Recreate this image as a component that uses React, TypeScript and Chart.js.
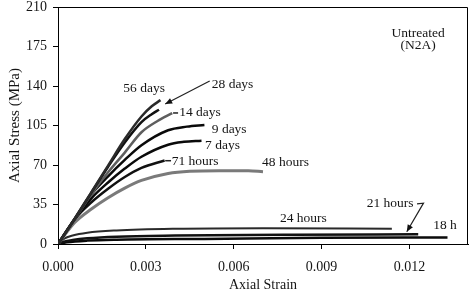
import React, { useEffect, useRef } from "react";
import { Chart, registerables } from "chart.js";

Chart.register(...registerables);

// ---- Data ----
const xTickValues = [0, 0.003, 0.006, 0.009, 0.012];
const yMax = 210;
const yStep = 35;
const xMax = 0.014;

const days56Strain = [0, 0.00057, 0.00114, 0.00171, 0.00228, 0.00285, 0.0032, 0.0035];
const days56Stress = [0, 22.5, 46, 69.5, 93, 113, 122, 127.5];

const days28Strain = [0, 0.00057, 0.00114, 0.00171, 0.00228, 0.00285, 0.0032, 0.00345];
const days28Stress = [0, 22.5, 45.5, 68.5, 90, 108, 115, 119];

const days14Strain = [0, 0.00057, 0.00114, 0.00171, 0.00228, 0.00285, 0.0034, 0.0039];
const days14Stress = [0, 22, 44, 63.5, 81, 99, 109, 116];

const days9Strain = [0, 0.00057, 0.00114, 0.00171, 0.00228, 0.00285, 0.00376, 0.0044, 0.005];
const days9Stress = [0, 22, 44, 60, 74.5, 87.5, 100.8, 104, 105.5];

const days7Strain = [0, 0.00057, 0.00114, 0.00171, 0.00228, 0.00285, 0.00376, 0.0043, 0.0049];
const days7Stress = [0, 22, 40.5, 54.5, 66.8, 77.3, 88, 90.5, 91.5];

const hours71Strain = [0, 0.00057, 0.00114, 0.00171, 0.00228, 0.00285, 0.00364];
const hours71Stress = [0, 22, 37, 49, 59.4, 67.5, 74];

const hours48Strain = [0, 0.00057, 0.00114, 0.00171, 0.00228, 0.00285, 0.00376, 0.0045, 0.0055, 0.0065, 0.007];
const hours48Stress = [0, 19, 31, 41, 49.5, 56.3, 62.5, 64.5, 65, 65, 64];

const hours24Strain = [0, 0.0002, 0.0005, 0.001, 0.002, 0.004, 0.007, 0.0114];
const hours24Stress = [0, 4.5, 7.5, 10, 12, 13.5, 14, 13.5];

const hours21Strain = [0, 0.0002, 0.0005, 0.001, 0.002, 0.004, 0.008, 0.0123];
const hours21Stress = [0, 2, 3.5, 5, 6.5, 7.5, 8.3, 8.6];

const hours18Strain = [0, 0.0003, 0.001, 0.002, 0.005, 0.009, 0.0133];
const hours18Stress = [0, 1.5, 3, 3.8, 4.5, 5.5, 5.8];

const seriesNames = ["56 days", "28 days", "14 days", "9 days", "7 days", "71 hours", "48 hours", "24 hours", "21 hours", "18 h"];
const seriesStrain = [days56Strain, days28Strain, days14Strain, days9Strain, days7Strain, hours71Strain, hours48Strain, hours24Strain, hours21Strain, hours18Strain];
const seriesStress = [days56Stress, days28Stress, days14Stress, days9Stress, days7Stress, hours71Stress, hours48Stress, hours24Stress, hours21Stress, hours18Stress];
const seriesColors = ["#2a2a2a", "#111111", "#5e5e5e", "#0a0a0a", "#0a0a0a", "#111111", "#7a7a7a", "#2a2a2a", "#111111", "#0a0a0a"];
const seriesWidths = [2.5, 2.5, 2.5, 2.5, 2.5, 2.5, 3, 2, 2.5, 2.5];

// annotation labels (data coordinates)
const labelTexts = ["56 days", "28 days", "14 days", "9 days", "7 days", "71 hours", "48 hours", "24 hours", "21 hours", "18 h"];
const labelStrain = [0.00294, 0.00525, 0.00414, 0.00525, 0.00502, 0.00388, 0.00697, 0.00758, 0.01054, 0.01281];
const labelStress = [138.1, 141.6, 116.5, 101.7, 87.5, 73.5, 72.4, 22.4, 35.7, 16.4];
const labelAlign = ["center", "left", "left", "left", "left", "left", "left", "left", "left", "left"];

const noteLines = ["Untreated", "(N2A)"];
const noteStrain = 0.0123;
const noteStress = [186.6, 176.3];

// arrows / leader lines (data coordinates)
const arrow28Strain = [0.00518, 0.00366];
const arrow28Stress = [144.5, 124];
const arrow21Strain = [0.01226, 0.01248, 0.01191];
const arrow21Stress = [35.5, 36.2, 10.8];
const leader14Strain = [0.00393, 0.0041];
const leader14Stress = [116.1, 116.1];
const leader71Strain = [0.00366, 0.00386];
const leader71Stress = [73.8, 73.8];

const FONT = "'Liberation Serif', 'Times New Roman', serif";

const overlayPlugin = {
  id: "overlay",
  afterDatasetsDraw(chart: any) {
    const { ctx, chartArea, scales } = chart;
    const xs = scales.x;
    const ys = scales.y;
    const px = (v: number) => xs.getPixelForValue(v);
    const py = (v: number) => ys.getPixelForValue(v);
    ctx.save();
    // frame top & right
    ctx.strokeStyle = "#000";
    ctx.lineWidth = 1;
    ctx.beginPath();
    ctx.moveTo(chartArea.left, chartArea.top + 0.5);
    ctx.lineTo(chartArea.right - 0.5, chartArea.top + 0.5);
    ctx.lineTo(chartArea.right - 0.5, chartArea.bottom);
    ctx.stroke();

    // labels
    ctx.fillStyle = "#151515";
    ctx.font = "13.5px " + FONT;
    ctx.textBaseline = "middle";
    labelTexts.forEach((t, i) => {
      ctx.textAlign = labelAlign[i] as CanvasTextAlign;
      ctx.fillText(t, px(labelStrain[i]), py(labelStress[i]));
    });
    ctx.textAlign = "center";
    noteLines.forEach((t, i) => {
      ctx.fillText(t, px(noteStrain), py(noteStress[i]));
    });

    // leader lines
    ctx.strokeStyle = "#222";
    ctx.lineWidth = 1.5;
    const poly = (sx: number[], sy: number[]) => {
      ctx.beginPath();
      sx.forEach((v, i) => {
        if (i === 0) ctx.moveTo(px(v), py(sy[i]));
        else ctx.lineTo(px(v), py(sy[i]));
      });
      ctx.stroke();
    };
    poly(leader14Strain, leader14Stress);
    poly(leader71Strain, leader71Stress);

    const arrow = (sx: number[], sy: number[]) => {
      ctx.lineWidth = 1.2;
      poly(sx, sy);
      const n = sx.length;
      const x1 = px(sx[n - 2]), y1 = py(sy[n - 2]);
      const x2 = px(sx[n - 1]), y2 = py(sy[n - 1]);
      const a = Math.atan2(y2 - y1, x2 - x1);
      const L = 7, W = 3;
      ctx.fillStyle = "#111";
      ctx.beginPath();
      ctx.moveTo(x2, y2);
      ctx.lineTo(x2 - L * Math.cos(a) + W * Math.sin(a), y2 - L * Math.sin(a) - W * Math.cos(a));
      ctx.lineTo(x2 - L * Math.cos(a) - W * Math.sin(a), y2 - L * Math.sin(a) + W * Math.cos(a));
      ctx.closePath();
      ctx.fill();
    };
    arrow(arrow28Strain, arrow28Stress);
    arrow(arrow21Strain, arrow21Stress);
    ctx.restore();
  },
};

export default function App() {
  const ref = useRef<HTMLCanvasElement | null>(null);
  useEffect(() => {
    if (!ref.current) return;
    const datasets = seriesNames.map((name, i) => ({
      label: name,
      data: seriesStrain[i].map((x, j) => ({ x, y: seriesStress[i][j] })),
      borderColor: seriesColors[i],
      backgroundColor: seriesColors[i],
      borderWidth: seriesWidths[i],
      pointRadius: 0,
      fill: false,
      cubicInterpolationMode: "monotone" as const,
    }));
    const chart = new Chart(ref.current, {
      type: "line",
      data: { datasets },
      options: {
        animation: false,
        responsive: false,
        devicePixelRatio: 1,
        layout: { padding: { top: 7, right: 6, left: 0, bottom: 0 } },
        plugins: { legend: { display: false }, tooltip: { enabled: false } },
        scales: {
          x: {
            type: "linear",
            min: 0,
            max: xMax,
            afterBuildTicks: (s: any) => {
              s.ticks = xTickValues.map((v) => ({ value: v }));
            },
            afterFit: (s: any) => {
              s.height = 58;
              s.paddingLeft = 0;
              s.paddingRight = 0;
            },
            ticks: {
              callback: (v: any) => Number(v).toFixed(3),
              font: { family: FONT, size: 14 },
              color: "#151515",
              padding: 10,
              autoSkip: false,
              maxRotation: 0,
            },
            grid: { drawOnChartArea: false, drawTicks: true, tickLength: 5, color: "#000" },
            border: { display: true, color: "#000", width: 1 },
            title: {
              display: true,
              text: "Axial Strain",
              font: { family: FONT, size: 14 },
              color: "#151515",
              padding: { top: 0, bottom: 8 },
            },
          },
          y: {
            type: "linear",
            min: 0,
            max: yMax,
            afterFit: (s: any) => {
              s.width = 58;
              s.paddingTop = 0;
              s.paddingBottom = 0;
            },
            ticks: {
              stepSize: yStep,
              font: { family: FONT, size: 14 },
              color: "#151515",
              padding: 6,
            },
            grid: { drawOnChartArea: false, drawTicks: true, tickLength: 5, color: "#000" },
            border: { display: true, color: "#000", width: 1 },
            title: {
              display: true,
              text: "Axial Stress (MPa)",
              font: { family: FONT, size: 15 },
              color: "#151515",
              padding: { top: 6, bottom: 0 },
            },
          },
        },
      },
      plugins: [overlayPlugin],
    } as any);
    return () => chart.destroy();
  }, []);
  return (
    <div style={{ position: "fixed", left: 0, top: 0, width: 474, height: 302, background: "#fff" }}>
      <canvas ref={ref} width={474} height={302} style={{ width: 474, height: 302, display: "block" }} />
    </div>
  );
}
